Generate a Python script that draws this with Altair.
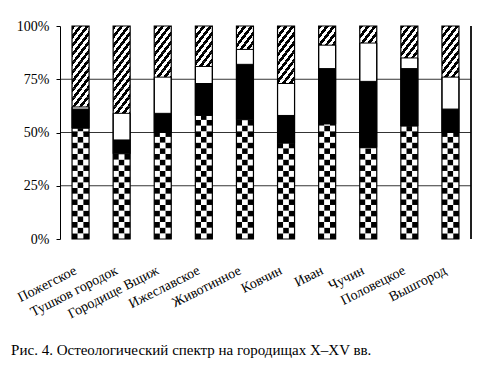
import altair as alt
import pandas as pd
import math

sites = ["Пожегское", "Тушков городок", "Городище Вщиж", "Ижеславское", "Животинное",
         "Ковчин", "Иван", "Чучин", "Половецкое", "Вышгород"]
checker_pct = [52, 40, 50, 58, 56, 45, 54, 43, 53, 50]
black_pct = [9, 6.5, 9, 15, 26, 13, 26, 31, 27, 11]
white_pct = [1, 12.5, 17, 8, 7, 15, 11, 18, 5, 15]
grid_vals = [25, 50, 75]
tick_vals = [0, 25, 50, 75, 100]
caption = "Рис. 4. Остеологический спектр на городищах X–XV вв."

# layout / style
W, H = 411, 213
P_IN = 0.586
bw = W / 10 * (1 - P_IN)
px_per_pct = H / 100.0
HATCH_CELL = 4.2      # % height of one hatch period
CHECK_CELL = (bw / 3) / px_per_pct  # % height of a checker square

# hatch gradient
h_px = HATCH_CELL * px_per_pct
k = 1.3
dx = k * bw / h_px
per = 1.0 / (dx * dx + 1)
stops = []
i = 0
while i * per < 1:
    a = i * per
    m = min(a + 0.5 * per, 1)
    b = min((i + 1) * per, 1)
    stops += [alt.GradientStop(offset=a, color="black"), alt.GradientStop(offset=m, color="black"),
              alt.GradientStop(offset=m, color="white"), alt.GradientStop(offset=b, color="white")]
    i += 1
hatch_grad = alt.LinearGradient(gradient="linear", stops=stops, x1=0, y1=0, x2=dx, y2=1)

# tables built from the lists
seg_rows, hatch_rows, check_rows = [], [], []
for s, c, b, w in zip(sites, checker_pct, black_pct, white_pct):
    seg_rows.append({"site": s, "lo": c, "hi": c + b, "kind": "black"})
    seg_rows.append({"site": s, "lo": c + b, "hi": c + b + w, "kind": "white"})
    top_white = c + b + w
    r = 0
    while 100 - r * HATCH_CELL > top_white:
        hatch_rows.append({"site": s, "lo": 100 - (r + 1) * HATCH_CELL, "hi": 100 - r * HATCH_CELL})
        r += 1
    nrows = math.ceil(c / CHECK_CELL)
    for r in range(nrows):
        for col in range(3):
            check_rows.append({"site": s, "col": col, "lo": r * CHECK_CELL,
                               "hi": min((r + 1) * CHECK_CELL, c),
                               "kind": "black" if (r + col) % 2 == 0 else "white"})
seg_df = pd.DataFrame(seg_rows)
hatch_df = pd.DataFrame(hatch_rows)
check_df = pd.DataFrame(check_rows)
out_df = pd.DataFrame({"site": sites, "lo": [0] * len(sites), "hi": [100] * len(sites)})
grid_df = pd.DataFrame({"lo": grid_vals})

FONT = "Liberation Serif"
yscale = alt.Scale(domain=[0, 100], nice=False)
yaxis = alt.Axis(values=tick_vals, labelExpr="datum.value + '%'", title=None, grid=False,
                 labelFont=FONT, labelFontSize=14, labelColor="black", domainColor="black",
                 tickColor="black", tickSize=4, labelPadding=7, domainWidth=1)
xdef = alt.X("site:N", sort=sites, title=None,
             scale=alt.Scale(paddingInner=P_IN, paddingOuter=P_IN / 2),
             axis=alt.Axis(labelAngle=-27, labelAlign="right", labelBaseline="top", ticks=False,
                           domain=False, labelFont=FONT, labelFontSize=14, labelColor="black",
                           labelPadding=24, labelOffset=-8))
Y = lambda: alt.Y("lo:Q", scale=yscale, axis=yaxis)
color = alt.Scale(domain=["black", "white"], range=["black", "white"])

grid = alt.Chart(grid_df).mark_rule(color="black", strokeWidth=0.8).encode(y=Y())
hatch = alt.Chart(hatch_df).mark_rect(fill=hatch_grad).encode(x=xdef, y=Y(), y2="hi:Q")
check = alt.Chart(check_df).mark_rect().encode(
    x=xdef, xOffset=alt.XOffset("col:O", scale=alt.Scale(paddingInner=0, paddingOuter=0)),
    y=Y(), y2="hi:Q", fill=alt.Fill("kind:N", scale=color, legend=None))
segs = alt.Chart(seg_df).mark_rect(stroke="black", strokeWidth=1).encode(
    x=xdef, y=Y(), y2="hi:Q", fill=alt.Fill("kind:N", scale=color, legend=None))
outline = alt.Chart(out_df).mark_rect(fillOpacity=0, stroke="black", strokeWidth=1.2).encode(
    x=xdef, y=Y(), y2="hi:Q")
right = alt.Chart(grid_df).mark_rule(color="black", strokeWidth=1).encode(x=alt.value("width"))

chart = alt.layer(grid, hatch, check, segs, outline, right).properties(
    width=W, height=H,
    autosize=alt.AutoSizeParams(type="none"),
    padding={"left": 52, "top": 18, "right": 9, "bottom": 124},
    title=alt.TitleParams(caption, orient="bottom", anchor="start", font=FONT, fontSize=15,
                          fontWeight="normal", color="black", offset=22, dx=-4),
    background="white",
).configure_view(stroke=None)

chart.save("out.html", embed_options={"renderer": "svg", "actions": False})
